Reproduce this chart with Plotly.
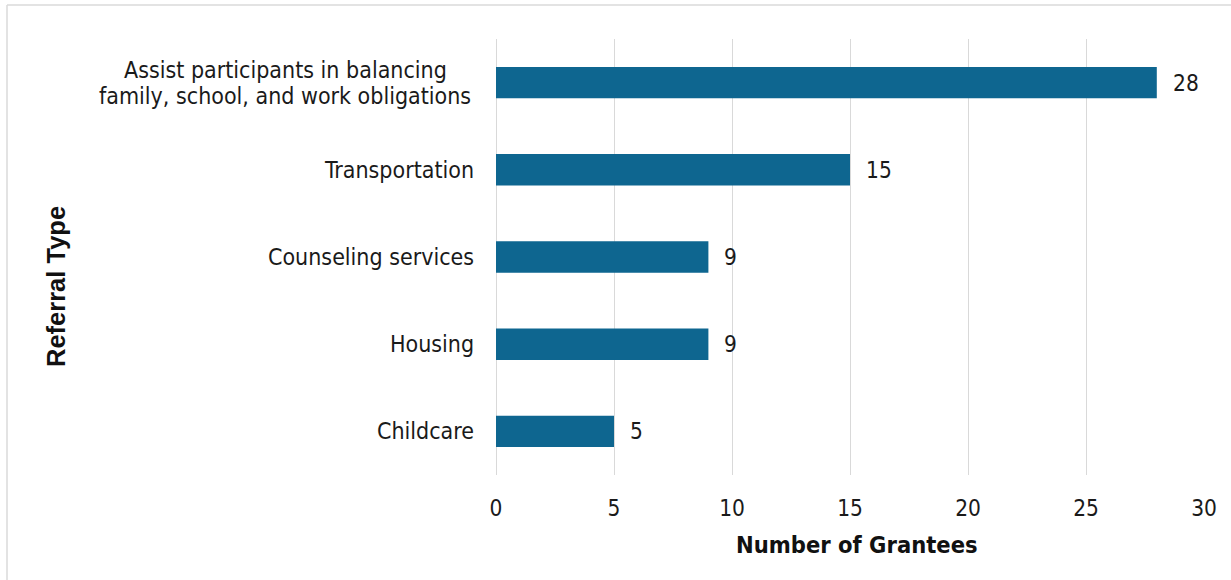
import plotly.graph_objects as go

# Referral types (top to bottom) and number of grantees
categories = [
    "Assist participants in balancing<br>family, school, and work obligations",
    "Transportation",
    "Counseling services",
    "Housing",
    "Childcare",
]
values = [28, 15, 9, 9, 5]
x_ticks = [0, 5, 10, 15, 20, 25, 30]

bar_color = "#0E6690"
text_family = "DejaVu Sans Condensed"
label_font = dict(family=text_family, size=23, color="#1a1a1a")
value_font = dict(family=text_family, size=22.5, color="#1a1a1a")

# plot area in pixels on the 1231x580 canvas
W, H = 1231, 580
L, R, T, B = 496, 27, 39, 105
PW, PH = W - L - R, H - T - B


def px_x(px):
    return (px - L) / PW


def px_y(py):
    return (H - B - py) / PH


fig = go.Figure(
    go.Bar(
        x=values,
        y=categories,
        orientation="h",
        marker=dict(color=bar_color, line=dict(width=0)),
        width=0.36,
        hoverinfo="skip",
    )
)

# value labels just right of each bar
for cat, v in zip(categories, values):
    fig.add_annotation(
        x=v, y=cat, text=str(v), showarrow=False,
        xanchor="left", yanchor="middle", xshift=14,
        font=value_font,
    )

# category labels, multi-line ones centred on each other with tight leading
line_gap = 26
label_right = px_x(476)
label_center = px_x(285)
for cat in categories:
    lines = cat.split("<br>")
    n = len(lines)
    for i, line in enumerate(lines):
        offset = ((n - 1) / 2 - i) * line_gap
        fig.add_annotation(
            x=label_right if n == 1 else label_center,
            xref="paper", y=cat, yref="y",
            text=line, showarrow=False,
            xanchor="right" if n == 1 else "center",
            yanchor="middle", yshift=offset,
            font=label_font,
        )

# axis titles
fig.add_annotation(
    x=px_x(857), y=px_y(545), xref="paper", yref="paper",
    text="<b>Number of Grantees</b>", showarrow=False,
    xanchor="center", yanchor="middle",
    font=dict(family=text_family, size=23.5, color="#111111"),
)
fig.add_annotation(
    x=px_x(56), y=px_y(286), xref="paper", yref="paper",
    text="<b>Referral Type</b>", showarrow=False, textangle=-90,
    xanchor="center", yanchor="middle",
    font=dict(family="Liberation Sans", size=25.5, color="#111111"),
)

fig.update_layout(
    width=W,
    height=H,
    margin=dict(l=L, r=R, t=T, b=B),
    paper_bgcolor="white",
    plot_bgcolor="white",
    showlegend=False,
    xaxis=dict(
        range=[0, 30],
        tickvals=x_ticks,
        showgrid=True,
        gridcolor="#D9D9D9",
        gridwidth=1,
        zeroline=True,
        zerolinecolor="#D9D9D9",
        zerolinewidth=1,
        showline=False,
        tickfont=value_font,
        ticklabelstandoff=17,
        fixedrange=True,
    ),
    yaxis=dict(
        categoryorder="array",
        categoryarray=categories[::-1],
        showgrid=False,
        showline=False,
        showticklabels=False,
        fixedrange=True,
    ),
)

# thin frame along the top and left edges of the canvas
frame_top = px_y(5)
frame_left = px_x(7)
fig.add_shape(type="line", xref="paper", yref="paper",
              x0=frame_left, x1=px_x(W), y0=frame_top, y1=frame_top,
              line=dict(color="#DADADA", width=1.5))
fig.add_shape(type="line", xref="paper", yref="paper",
              x0=frame_left, x1=frame_left, y0=frame_top, y1=px_y(H),
              line=dict(color="#DADADA", width=1.5))

fig.write_html("out.html")
